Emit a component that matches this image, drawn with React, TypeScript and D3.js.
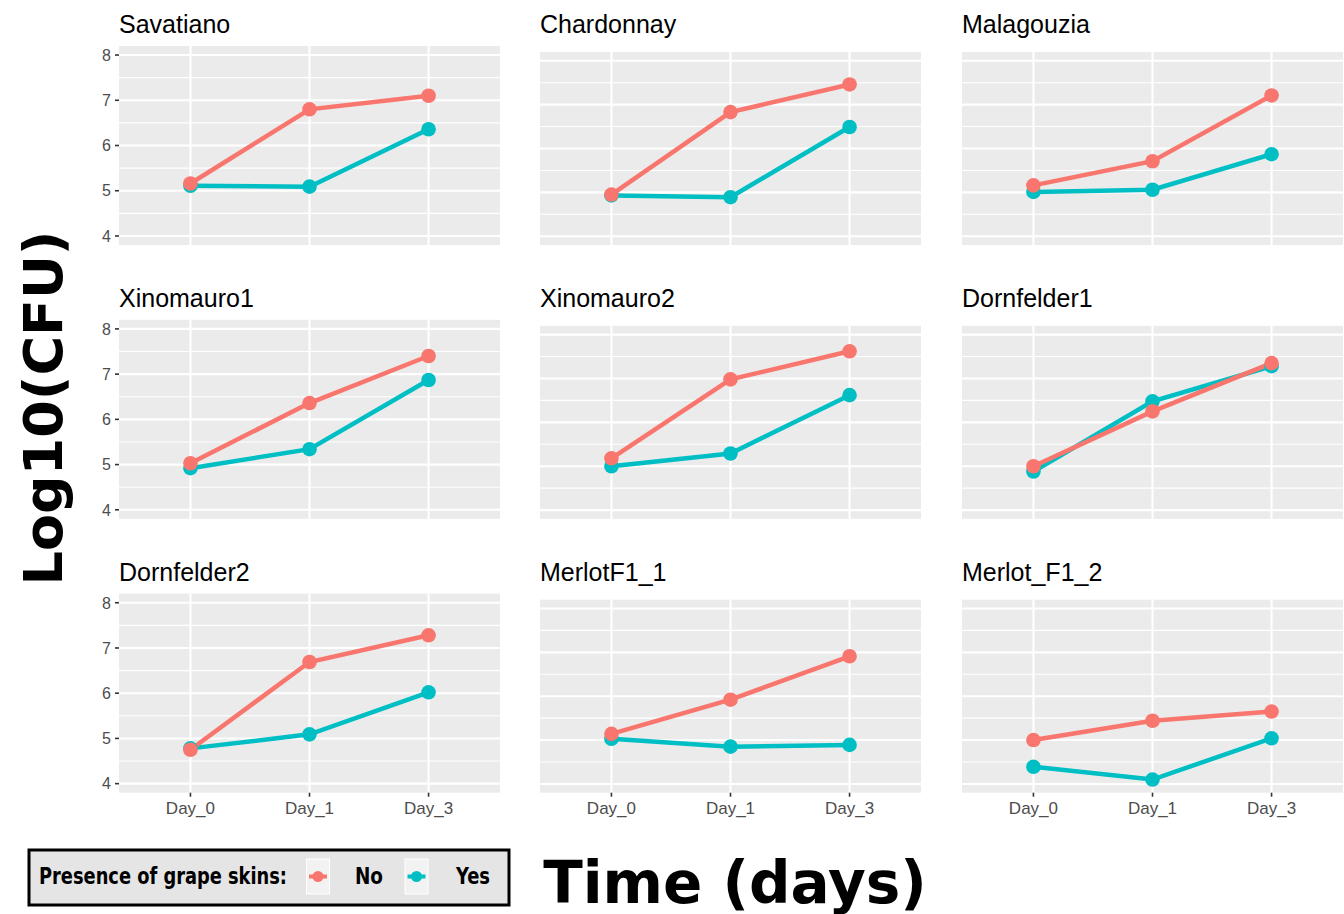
import React from "react";
import * as d3 from "d3";

// Sampling days and grape varieties (one panel each, row by row)
const DAYS = ["Day_0", "Day_1", "Day_3"];
const VARIETIES = [
  "Savatiano", "Chardonnay", "Malagouzia",
  "Xinomauro1", "Xinomauro2", "Dornfelder1",
  "Dornfelder2", "MerlotF1_1", "Merlot_F1_2",
];

// Log10(CFU) without grape skins ("No")
const NO_SKINS = [
  [5.16, 6.80, 7.10],
  [4.95, 6.83, 7.46],
  [5.16, 5.71, 7.21],
  [5.03, 6.36, 7.40],
  [5.18, 6.98, 7.62],
  [5.00, 6.25, 7.35],
  [4.75, 6.69, 7.28],
  [5.14, 5.92, 6.91],
  [5.00, 5.44, 5.65],
];

// Log10(CFU) with grape skins ("Yes")
const WITH_SKINS = [
  [5.11, 5.09, 6.36],
  [4.93, 4.89, 6.49],
  [5.01, 5.06, 5.87],
  [4.92, 5.34, 6.87],
  [5.00, 5.29, 6.62],
  [4.88, 6.48, 7.28],
  [4.78, 5.09, 6.02],
  [5.03, 4.85, 4.89],
  [4.39, 4.10, 5.04],
];

const Y_TICKS = [4, 5, 6, 7, 8];
const Y_MINOR = [4.5, 5.5, 6.5, 7.5];
const Y_DOMAIN: [number, number] = [3.8, 8.2];

const COLOR_NO = "#F8766D";
const COLOR_YES = "#00BFC4";

const W = 1344;
const H = 914;

const COL_LEFT = [119, 540, 962];
const PANEL_W = 381;
const ROW_STEP = 273.85;

function Panel({ idx }: { idx: number }) {
  const row = Math.floor(idx / 3);
  const col = idx % 3;
  const left = COL_LEFT[col];
  const right = left + PANEL_W;
  const top = (col === 0 ? 46 : 52) + row * ROW_STEP;
  const bottom = 245 + row * ROW_STEP;

  const x = d3.scalePoint<string>().domain(DAYS).range([left, right]).padding(0.6);
  const y = d3.scaleLinear().domain(Y_DOMAIN).range([bottom, top]);

  const line = d3
    .line<number>()
    .x((_, i) => x(DAYS[i]) as number)
    .y((v) => y(v));

  const series = [
    { vals: WITH_SKINS[idx], color: COLOR_YES },
    { vals: NO_SKINS[idx], color: COLOR_NO },
  ];

  return (
    <g>
      <text
        x={left}
        y={33 + row * ROW_STEP}
        fontFamily="Liberation Sans, Arial, sans-serif"
        fontSize={25}
        fill="#000"
      >
        {VARIETIES[idx]}
      </text>
      <rect x={left} y={top} width={PANEL_W} height={bottom - top} fill="#EBEBEB" />
      {Y_MINOR.map((t) => (
        <line key={"m" + t} x1={left} x2={right} y1={y(t)} y2={y(t)} stroke="#fff" strokeWidth={1.1} />
      ))}
      {Y_TICKS.map((t) => (
        <line key={"M" + t} x1={left} x2={right} y1={y(t)} y2={y(t)} stroke="#fff" strokeWidth={2.1} />
      ))}
      {DAYS.map((d) => (
        <line key={d} x1={x(d)} x2={x(d)} y1={top} y2={bottom} stroke="#fff" strokeWidth={2.1} />
      ))}
      {series.map((s, i) => (
        <path key={"l" + i} d={line(s.vals) as string} fill="none" stroke={s.color} strokeWidth={4.5} />
      ))}
      {series.map((s, i) =>
        s.vals.map((v, j) => (
          <circle key={"p" + i + "-" + j} cx={x(DAYS[j])} cy={y(v)} r={7.3} fill={s.color} />
        ))
      )}
      {col === 0 &&
        Y_TICKS.map((t) => (
          <g key={"yt" + t}>
            <line x1={left - 4} x2={left} y1={y(t)} y2={y(t)} stroke="#333" strokeWidth={1.6} />
            <text
              x={left - 8}
              y={y(t)}
              dy="0.36em"
              textAnchor="end"
              fontFamily="Liberation Sans, Arial, sans-serif"
              fontSize={16}
              fill="#4D4D4D"
            >
              {t}
            </text>
          </g>
        ))}
      {row === 2 &&
        DAYS.map((d) => (
          <g key={"xt" + d}>
            <line x1={x(d)} x2={x(d)} y1={bottom} y2={bottom + 4} stroke="#333" strokeWidth={1.6} />
            <text
              x={x(d)}
              y={bottom + 21}
              textAnchor="middle"
              fontFamily="Liberation Sans, Arial, sans-serif"
              fontSize={17}
              fill="#4D4D4D"
            >
              {d}
            </text>
          </g>
        ))}
    </g>
  );
}

function LegendKey({ cx, color }: { cx: number; color: string }) {
  return (
    <g>
      <rect x={cx - 11.5} y={859} width={23} height={35} fill="#F2F2F2" stroke="#fff" strokeWidth={1} />
      <line x1={cx - 9} x2={cx + 9} y1={876.5} y2={876.5} stroke={color} strokeWidth={4} />
      <circle cx={cx} cy={876.5} r={5.5} fill={color} />
    </g>
  );
}

export default function App() {
  const legendFont = "DejaVu Sans Condensed, DejaVu Sans, sans-serif";
  return (
    <svg
      width={W}
      height={H}
      viewBox={`0 0 ${W} ${H}`}
      style={{ position: "absolute", left: 0, top: 0, background: "#fff" }}
    >
      <rect x={0} y={0} width={W} height={H} fill="#fff" />
      {VARIETIES.map((_, i) => (
        <Panel key={i} idx={i} />
      ))}

      <text
        transform="translate(62,408) rotate(-90)"
        textAnchor="middle"
        fontFamily="DejaVu Sans, sans-serif"
        fontWeight="bold"
        fontSize={54}
        fill="#000"
      >
        Log10(CFU)
      </text>

      <text
        x={735}
        y={903}
        textAnchor="middle"
        fontFamily="DejaVu Sans, sans-serif"
        fontWeight="bold"
        fontSize={58}
        fill="#000"
      >
        Time (days)
      </text>

      <rect x={29} y={850} width={480} height={55} fill="#E5E5E5" stroke="#000" strokeWidth={3} />
      <text
        x={39}
        y={884}
        fontFamily={legendFont}
        fontWeight="bold"
        fontSize={23}
        textLength={248}
        lengthAdjust="spacingAndGlyphs"
        fill="#000"
      >
        Presence of grape skins:
      </text>
      <LegendKey cx={318} color={COLOR_NO} />
      <text x={355} y={884} fontFamily={legendFont} fontWeight="bold" fontSize={23} textLength={28} lengthAdjust="spacingAndGlyphs" fill="#000">
        No
      </text>
      <LegendKey cx={416.5} color={COLOR_YES} />
      <text x={456} y={884} fontFamily={legendFont} fontWeight="bold" fontSize={23} textLength={34} lengthAdjust="spacingAndGlyphs" fill="#000">
        Yes
      </text>
    </svg>
  );
}
